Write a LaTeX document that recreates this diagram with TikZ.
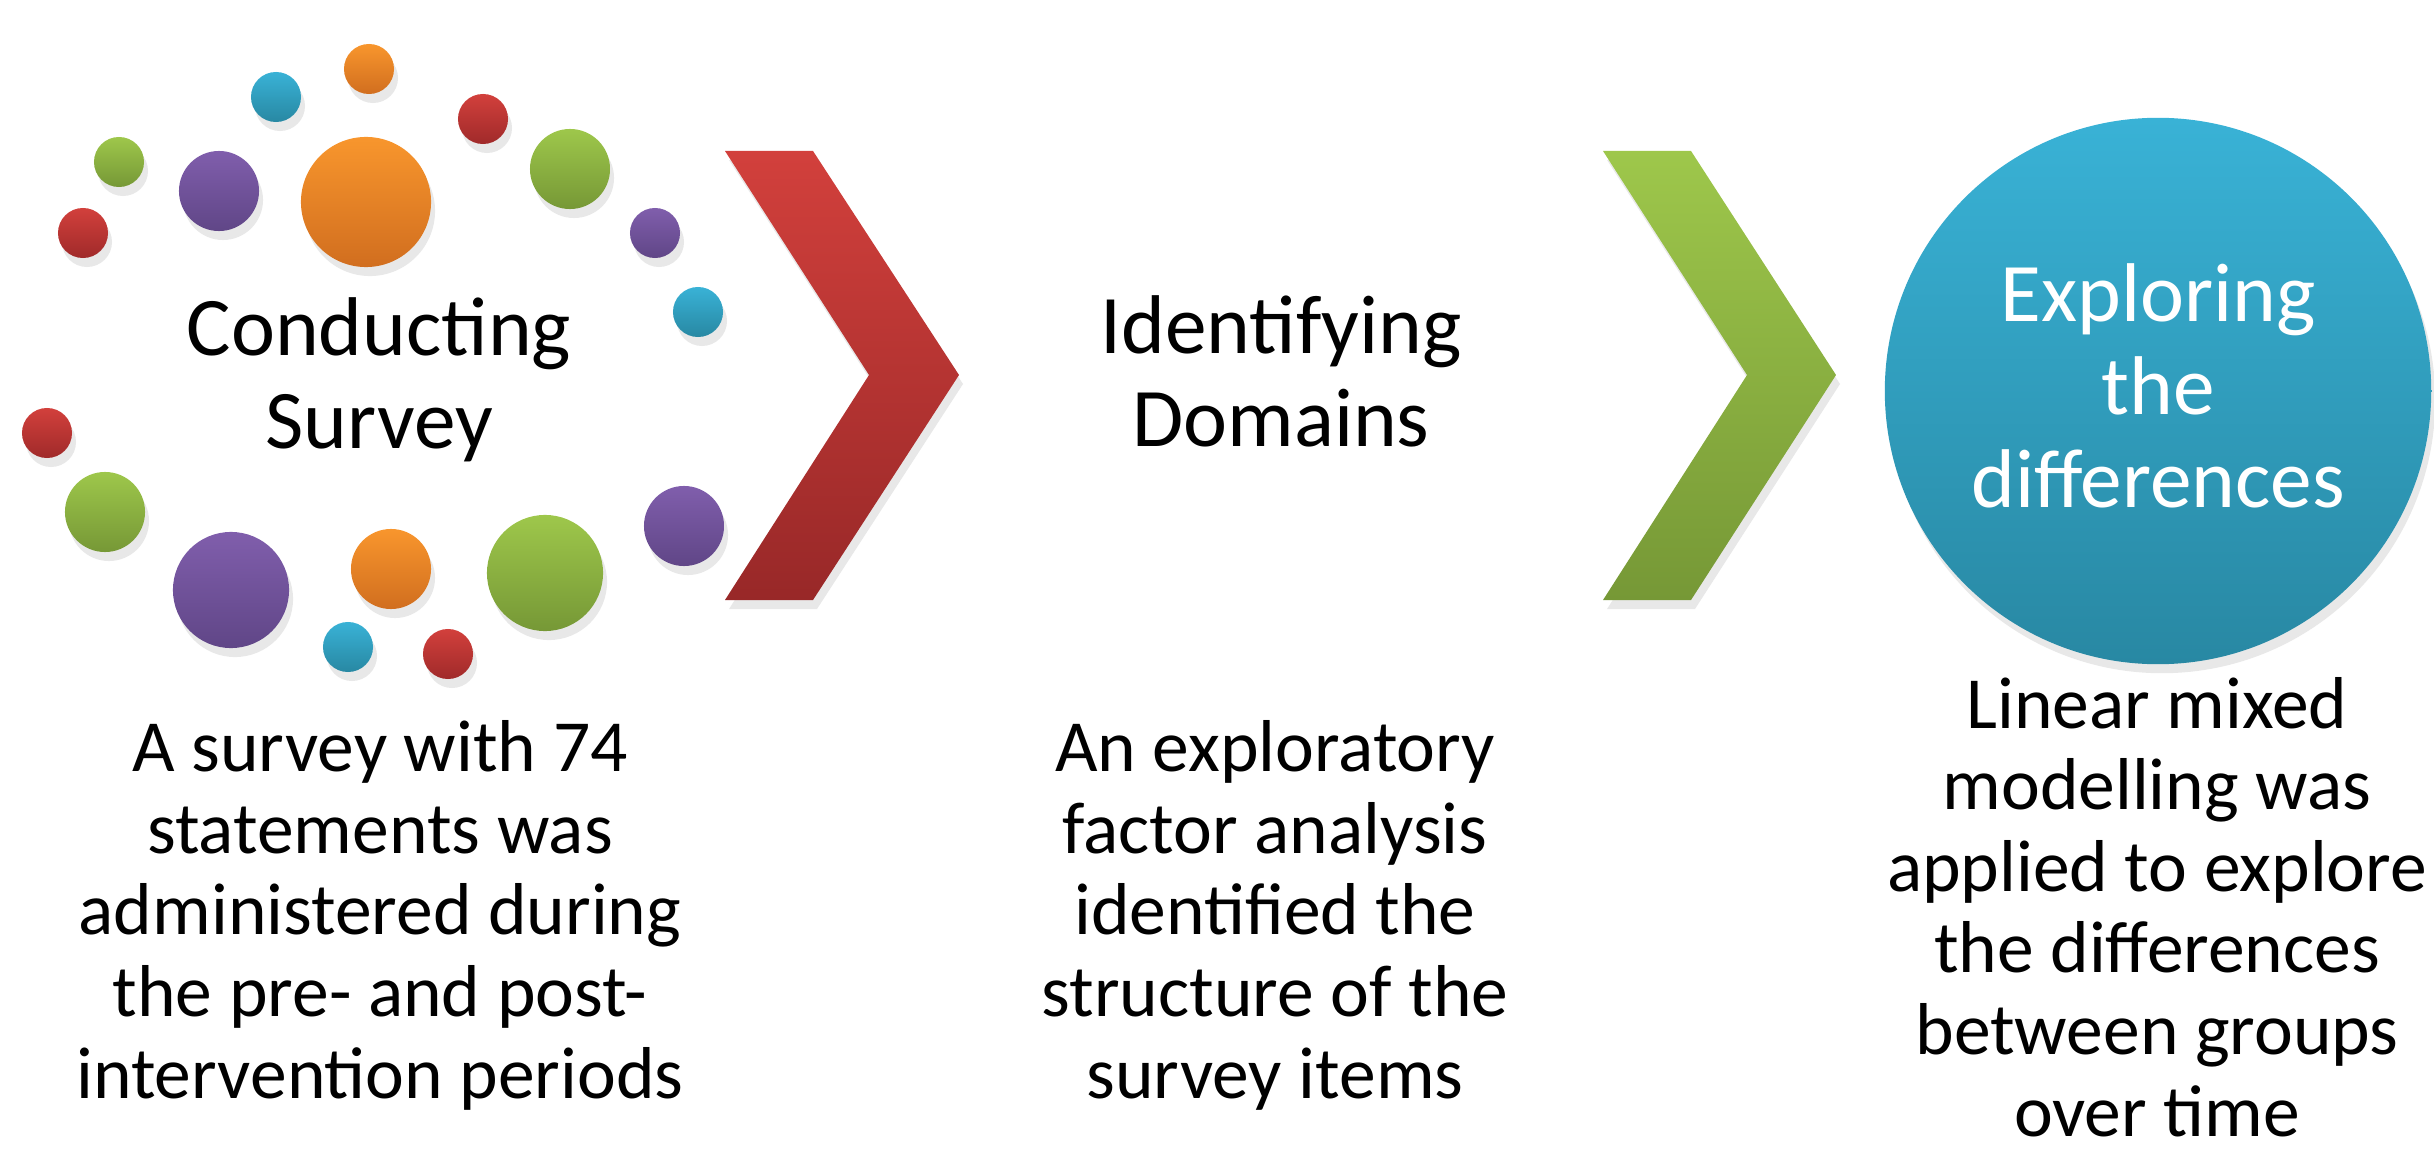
\documentclass[tikz,border=0pt]{standalone}
\usepackage{fontspec}
\setmainfont{Carlito}
\usetikzlibrary{shadows,positioning}

\definecolor{orangeTop}{RGB}{248,150,45}
\definecolor{orangeBot}{RGB}{209,110,31}
\definecolor{blueTop}{RGB}{57,178,214}
\definecolor{blueBot}{RGB}{40,136,163}
\definecolor{redTop}{RGB}{210,64,60}
\definecolor{redBot}{RGB}{160,42,42}
\definecolor{greenTop}{RGB}{158,199,75}
\definecolor{greenBot}{RGB}{118,152,54}
\definecolor{purpleTop}{RGB}{128,94,172}
\definecolor{purpleBot}{RGB}{96,70,135}

\begin{document}
\begin{tikzpicture}[x=0.01cm, y=-0.01cm]

        % one pixel of the slide is one unit here
        \tikzset{
            ball/.style={circle, inner sep=0pt, minimum size={#1*0.02cm},
                drop shadow={shadow xshift=0.4mm, shadow yshift=-0.9mm, opacity=0.18}},
            orangeball/.style={top color=orangeTop, bottom color=orangeBot},
            blueball/.style={top color=blueTop, bottom color=blueBot},
            redball/.style={top color=redTop, bottom color=redBot},
            greenball/.style={top color=greenTop, bottom color=greenBot},
            purpleball/.style={top color=purpleTop, bottom color=purpleBot},
            heading/.style={align=center, inner sep=0pt,
                font=\fontsize{23.7}{26.4}\selectfont},
            caption/.style={align=center, inner sep=0pt,
                font=\fontsize{20.9}{23.2}\selectfont}
        }

        \useasboundingbox (0,0) rectangle (2434,1149);

        % ring of dots round the first step
        \foreach \n/\x/\y/\r/\c in {
            1/369/69/25/orange, 2/276/97/25/blue, 3/483/119/25/red,
            4/119/162/25/green, 5/219/191/40/purple, 6/366/202/65/orange,
            7/570/169/40/green, 8/83/233/25/red, 9/655/233/25/purple,
            10/698/312/25/blue, 11/47/433/25/red, 12/105/512/40/green,
            13/231/590/58/purple, 14/391/569/40/orange, 15/545/573/58/green,
            16/684/526/40/purple, 17/348/647/25/blue, 18/448/654/25/red}
            \node[ball=\r, \c ball] (dot\n) at (\x,\y) {};

        % chevrons between the steps
        \shade[top color=redTop, bottom color=redBot!95!black,
            drop shadow={shadow xshift=0.4mm, shadow yshift=-0.9mm, opacity=0.18}]
            (725,151) -- (813,151) -- (959,375) -- (813,600)
            -- (725,600) -- (869,375) -- cycle;
        \shade[top color=greenTop, bottom color=greenBot,
            drop shadow={shadow xshift=0.4mm, shadow yshift=-0.9mm, opacity=0.18}]
            (1603,151) -- (1691,151) -- (1836,375) -- (1691,600)
            -- (1603,600) -- (1747,375) -- cycle;

        % last step
        \node[ball=273, blueball] (explore) at (2158,391) {};

        % anchor base is the baseline of the last line
        \node[heading, anchor=base] (survey) at (379,448)
            {Conducting\\Survey};
        \node[heading, anchor=base] (domains) at (1281,446)
            {Identifying\\Domains};
        \node[heading, anchor=base, text=white] (diffs) at (2158,507)
            {Exploring\\the\\differences};

        \node[caption, anchor=base] (surveytxt) at (380,1098)
            {A survey with 74\\statements was\\administered during\\the pre- and post-\\intervention periods};
        \node[caption, anchor=base] (domaintxt) at (1275,1098)
            {An exploratory\\factor analysis\\identified the\\structure of the\\survey items};
        \node[caption, anchor=base] (difftxt) at (2157,1136)
            {Linear mixed\\modelling was\\applied to explore\\the differences\\between groups\\over time};

\end{tikzpicture}
\end{document}
